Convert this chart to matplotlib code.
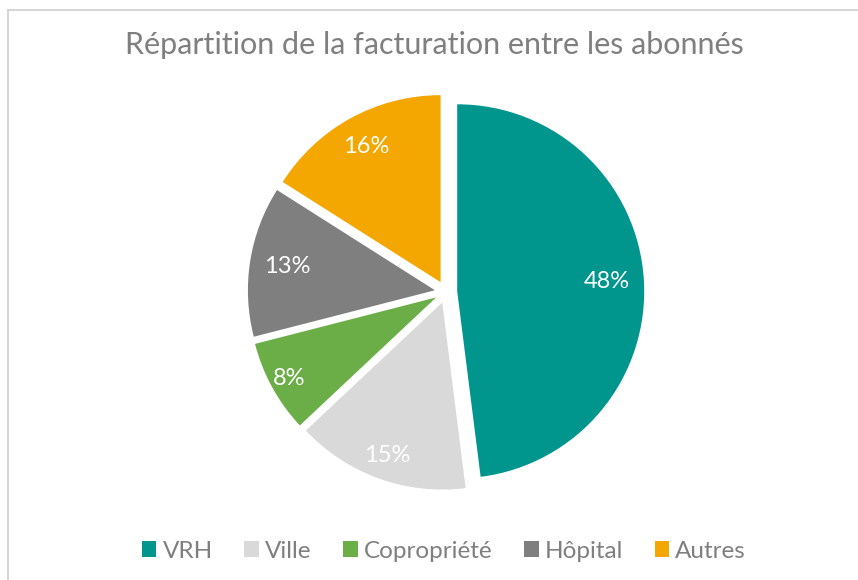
import matplotlib
matplotlib.use('Agg')
import matplotlib.pyplot as plt
import numpy as np
from matplotlib.lines import Line2D
from matplotlib.patches import Patch

# data
labels = ['VRH', 'Ville', 'Copropriété', 'Hôpital', 'Autres']
shares = [48, 15, 8, 13, 16]
colors = ['#00958D', '#D9D9D9', '#6BAE47', '#7F7F7F', '#F4A700']
label_dist = [0.80, 0.87, 0.90, 0.80, 0.83]

plt.rcParams['font.family'] = ['Lato', 'DejaVu Sans']
text_grey = '#7F7F7F'

fig = plt.figure(figsize=(8.58, 5.8), dpi=100)
fig.patch.set_facecolor('white')

# cropped chart frame (top and left edges visible)
fig.add_artist(Line2D([8 / 858, 1], [1 - 10 / 580, 1 - 10 / 580], color='#D0D0D0', lw=1.2))
fig.add_artist(Line2D([8 / 858, 8 / 858], [0, 1 - 10 / 580], color='#D0D0D0', lw=1.2))

fig.text(434 / 858, 1 - 45 / 580, 'Répartition de la facturation entre les abonnés',
         ha='center', va='center', fontsize=22, color=text_grey)

# pie axes: centre (446, 292) px, radius 187 px
r_px = 187
half = 1.2 * r_px
ax = fig.add_axes([(446 - half) / 858, (288 - half) / 580, 2 * half / 858, 2 * half / 580])

wedges, texts, autotexts = ax.pie(
    shares, colors=colors, startangle=90, counterclock=False,
    explode=[0.06] * len(shares), autopct='%1.0f%%', pctdistance=0.8,
    wedgeprops=dict(linewidth=0), textprops=dict(color='white', fontsize=17))
# pie() resets the limits, so set them afterwards
ax.set_xlim(-1.2, 1.2)
ax.set_ylim(-1.2, 1.2)
ax.set_aspect('equal')
ax.axis('off')

# shift % labels per slice, like Excel's best fit
for w, t, d in zip(wedges, autotexts, label_dist):
    ang = np.deg2rad((w.theta1 + w.theta2) / 2)
    cx, cy = w.center
    t.set_position((cx + d * np.cos(ang), cy + d * np.sin(ang)))

handles = [Patch(facecolor=c, edgecolor='none') for c in colors]
fig.legend(handles, labels, loc='center', bbox_to_anchor=(444 / 858, 1 - 551 / 580),
           ncol=5, frameon=False, fontsize=17.5, handlelength=0.6, handleheight=0.6,
           handletextpad=0.25, columnspacing=1.3, labelcolor=text_grey)

fig.savefig('out.png', dpi=100)
